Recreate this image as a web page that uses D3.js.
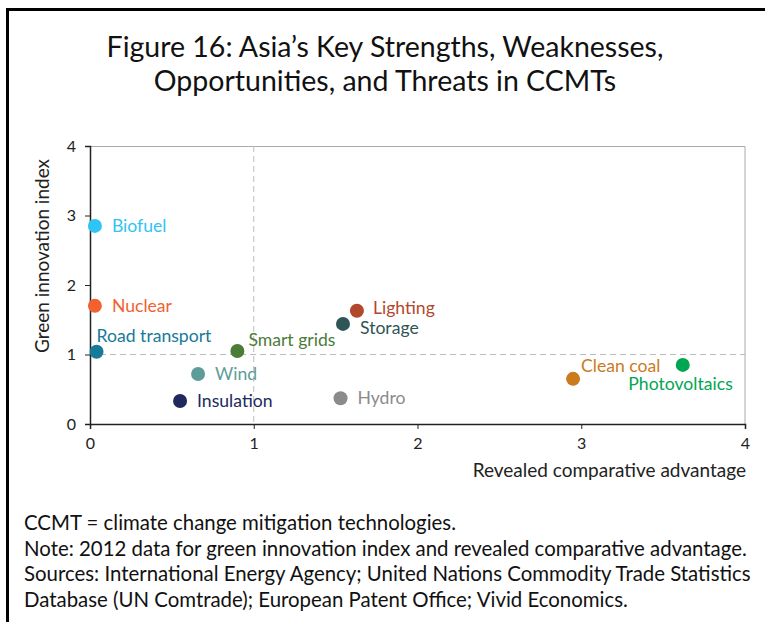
<!DOCTYPE html>
<html>
<head>
<meta charset="utf-8">
<script src="https://cdn.jsdelivr.net/npm/d3@7"></script>
<style>
  body { margin: 0; background: #fff; }
  text { font-family: Lato, "Open Sans", sans-serif; }
</style>
</head>
<body>
<div id="chart"></div>
<script>
// data
var names  = ["Biofuel", "Nuclear", "Road transport", "Smart grids", "Wind", "Insulation",
              "Lighting", "Storage", "Hydro", "Clean coal", "Photovoltaics"];
var rca    = [0.03, 0.03, 0.04, 0.90, 0.66, 0.55, 1.63, 1.545, 1.53, 2.95, 3.62];
var gii    = [2.85, 1.70, 1.04, 1.05, 0.72, 0.33, 1.63, 1.44, 0.37, 0.65, 0.85];
var colors = ["#2ec4f3", "#f2612f", "#177a99", "#4b7c38", "#5e9c9a", "#20295e",
              "#b3472b", "#2f5557", "#8b8b8b", "#c97b1e", "#00a651"];
var xTicks = [0, 1, 2, 3, 4];
var yTicks = [0, 1, 2, 3, 4];
var notes = [
  "CCMT = climate change mitigation technologies.",
  "Note: 2012 data for green innovation index and revealed comparative advantage.",
  "Sources: International Energy Agency; United Nations Commodity Trade Statistics",
  "Database (UN Comtrade); European Patent Office; Vivid Economics."
];

var W = 765, H = 622;
var margin = {top: 146, right: 20, bottom: 198, left: 90},
    width = W - margin.left - margin.right,
    height = H - margin.top - margin.bottom;

var svg = d3.select("#chart").append("svg")
    .attr("width", W).attr("height", H);

// frame
svg.append("path")
  .attr("d", "M7.5," + H + " V9.5 H" + W)
  .attr("fill", "none").attr("stroke", "#000").attr("stroke-width", 3);

// title
svg.append("text")
  .attr("x", 385).attr("text-anchor", "middle")
  .style("font-size", "28.5px").attr("fill", "#111")
  .selectAll("tspan")
  .data(["Figure 16: Asia\u2019s Key Strengths, Weaknesses,", "Opportunities, and Threats in CCMTs"])
  .enter().append("tspan")
    .attr("x", 385)
    .attr("y", function(d, i) { return 57 + i * 34; })
    .text(function(d) { return d; });

var g = svg.append("g")
  .attr("transform", "translate(" + margin.left + "," + margin.top + ")");

var x = d3.scaleLinear().domain([0, 4]).range([0, width]);
var y = d3.scaleLinear().domain([0, 4]).range([height, 0]);

// top and right frame of plot
g.append("path")
  .attr("d", "M0,0.5 H" + width + " V" + height)
  .attr("fill", "none").attr("stroke", "#aaa").attr("stroke-width", 1);

// dashed reference lines at 1
g.append("line")
  .attr("x1", x(1)).attr("x2", x(1)).attr("y1", 0).attr("y2", height)
  .attr("stroke", "#bbb").attr("stroke-dasharray", "6,4");
g.append("line")
  .attr("x1", 0).attr("x2", width).attr("y1", y(1)).attr("y2", y(1))
  .attr("stroke", "#bbb").attr("stroke-dasharray", "6,4");

// axes
var xAxis = g.append("g")
  .attr("transform", "translate(0," + height + ")")
  .call(d3.axisBottom(x).tickValues(xTicks).tickFormat(d3.format("d")).tickSizeOuter(0).tickSize(5));
var yAxis = g.append("g")
  .call(d3.axisLeft(y).tickValues(yTicks).tickFormat(d3.format("d")).tickSizeOuter(0).tickSize(5));
[xAxis, yAxis].forEach(function(a) {
  a.select(".domain").attr("stroke", "#222").attr("stroke-width", 1.5);
  a.selectAll(".tick line").attr("stroke", "#222");
  a.selectAll(".tick text").style("font-size", "16px").attr("fill", "#222")
    .style("font-family", "Lato, sans-serif");
});
xAxis.selectAll(".tick text").attr("dy", "1.05em");
yAxis.selectAll(".tick text").attr("x", -14);

// axis titles
g.append("text")
  .attr("x", width + 1).attr("y", height + 53)
  .attr("text-anchor", "end").style("font-size", "19px").attr("fill", "#222")
  .text("Revealed comparative advantage");
g.append("text")
  .attr("transform", "rotate(-90)")
  .attr("x", -(256 - margin.top)).attr("y", -41)
  .attr("text-anchor", "middle").style("font-size", "19px").attr("fill", "#222")
  .text("Green innovation index");

// points
var data = names.map(function(n, i) { return {name: n, x: rca[i], y: gii[i], c: colors[i]}; });

g.selectAll("circle.pt")
  .data(data).enter().append("circle")
    .attr("class", "pt")
    .attr("cx", function(d) { return x(d.x); })
    .attr("cy", function(d) { return y(d.y); })
    .attr("r", 7)
    .attr("fill", function(d) { return d.c; });

// label placement (offset from point, anchor)
var labelPos = {
  "Road transport": [0, -16, "start"],
  "Smart grids":    [11, -11, "start"],
  "Lighting":       [16, -3, "start"],
  "Storage":        [17, 4, "start"],
  "Clean coal":     [8, -13, "start"],
  "Photovoltaics":  [50, 19, "end"]
};
g.selectAll("text.lbl")
  .data(data).enter().append("text")
    .attr("class", "lbl")
    .attr("x", function(d) { var p = labelPos[d.name]; return x(d.x) + (p ? p[0] : 17); })
    .attr("y", function(d) { var p = labelPos[d.name]; return y(d.y) + (p ? p[1] : 0); })
    .attr("dy", "0.35em")
    .attr("text-anchor", function(d) { var p = labelPos[d.name]; return p ? p[2] : "start"; })
    .style("font-size", "17.6px")
    .attr("fill", function(d) { return d.c; })
    .text(function(d) { return d.name; });

// notes
svg.selectAll("text.note")
  .data(notes).enter().append("text")
    .attr("class", "note")
    .attr("x", 24)
    .attr("y", function(d, i) { return 530 + i * 25.5; })
    .style("font-size", "20.4px").attr("fill", "#111")
    .text(function(d) { return d; });
</script>
</body>
</html>
